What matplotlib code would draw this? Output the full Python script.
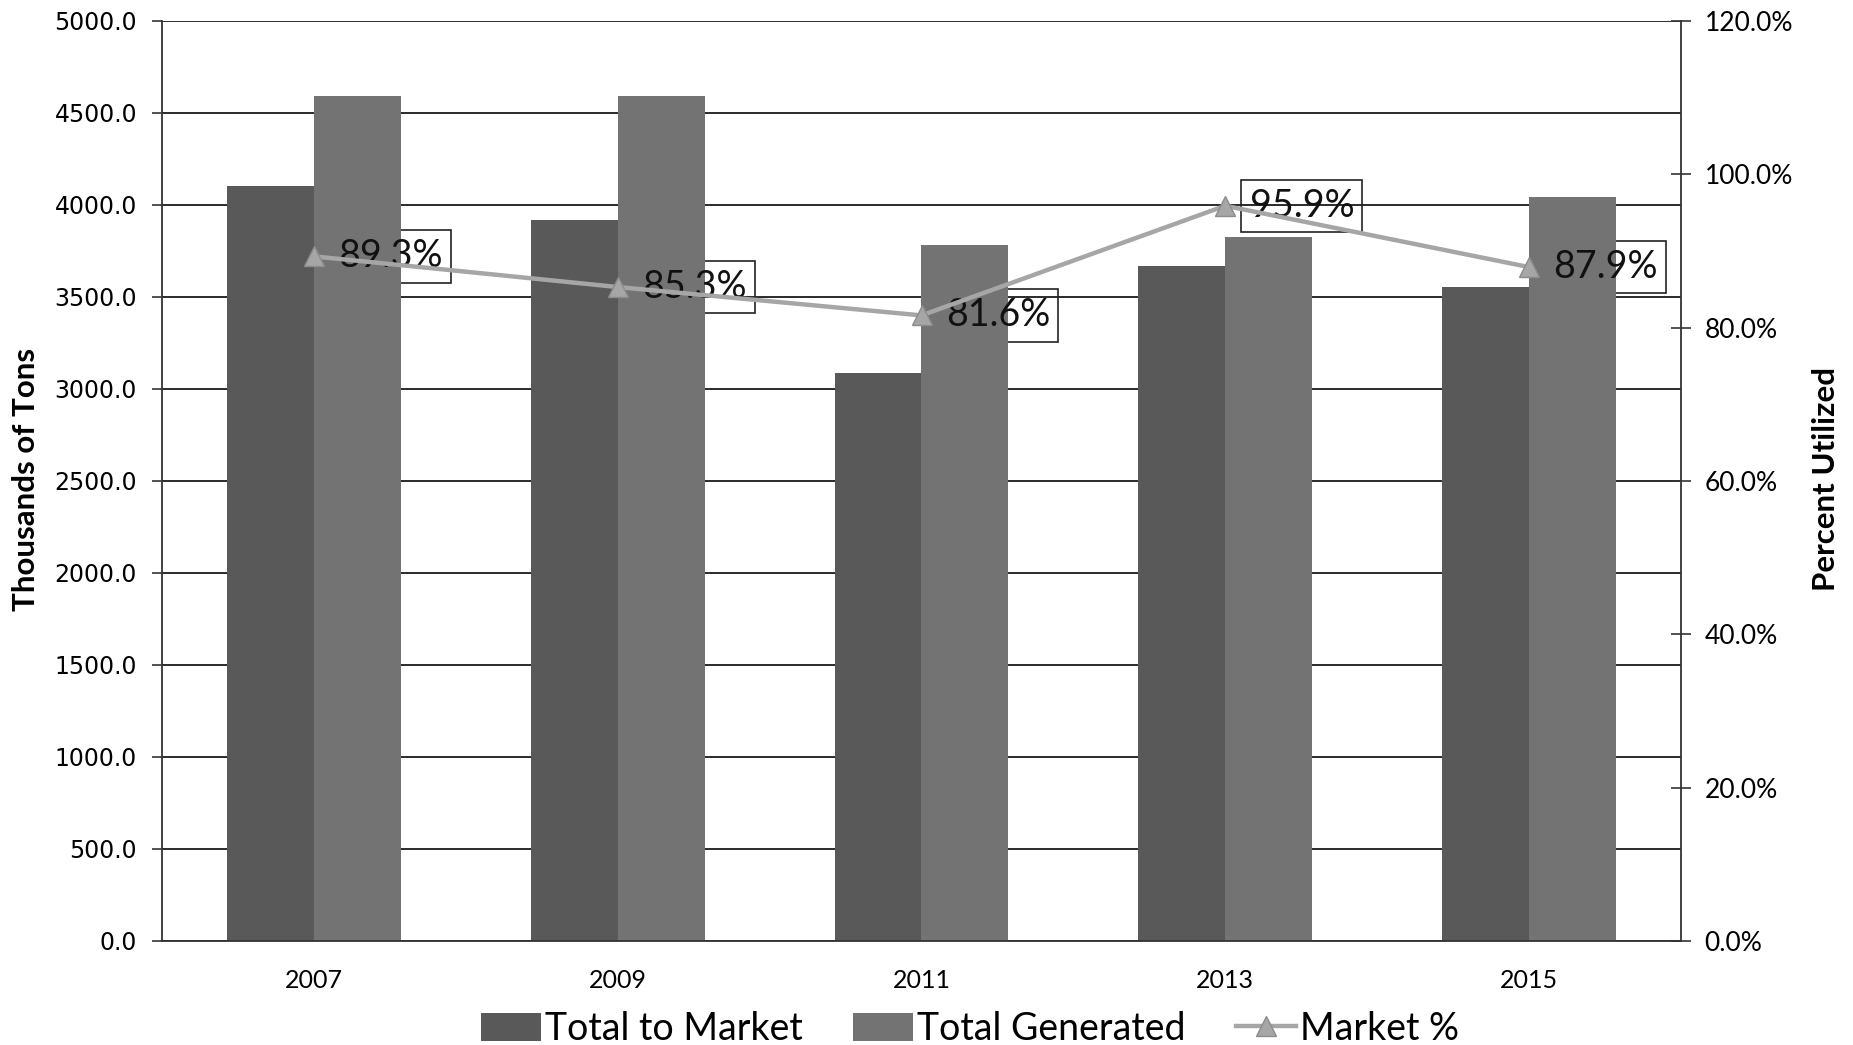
import matplotlib
matplotlib.use("Agg")
import matplotlib.pyplot as plt
import numpy as np
from matplotlib.ticker import FuncFormatter, MultipleLocator
from matplotlib.patches import Patch
from matplotlib.lines import Line2D

years = ["2007", "2009", "2011", "2013", "2015"]
total_to_market = [4105, 3920, 3085, 3670, 3555]
total_generated = [4595, 4595, 3785, 3825, 4045]
market_pct = [89.3, 85.3, 81.6, 95.9, 87.9]

c_market = "#595959"
c_gen = "#737373"
c_line = "#a6a6a6"

fig = plt.figure(figsize=(18.53, 10.45), dpi=100)
ax = fig.add_axes([162/1853, 1-941/1045, (1681-162)/1853, (941-21)/1045])
ax2 = ax.twinx()

x = np.arange(len(years))
w = 0.286
ax.bar(x - w/2, total_to_market, width=w, color=c_market, zorder=2)
ax.bar(x + w/2, total_generated, width=w, color=c_gen, zorder=2)

ax.set_xlim(-0.5, len(years) - 0.5)
ax.set_ylim(0, 5000)
ax.yaxis.set_major_locator(MultipleLocator(500))
ax.yaxis.set_major_formatter(FuncFormatter(lambda v, p: f"{v:.1f}"))
ax.set_axisbelow(True)
ax.grid(axis="y", color="#1a1a1a", lw=1.3, zorder=0.5)
ax.set_xticks(x)
ax.set_xticklabels(years, fontfamily="Lato", fontsize=18)
ax.tick_params(axis="x", length=0, pad=20)
ax.tick_params(axis="y", direction="out", length=7, width=1.2, color="#333333", pad=11)
for lab in ax.get_yticklabels():
    lab.set_fontfamily("DejaVu Sans")
    lab.set_fontsize(17)
for s in ["top", "right"]:
    ax.spines[s].set_visible(False)
for s in ["left", "bottom"]:
    ax.spines[s].set_color("#333333")
    ax.spines[s].set_linewidth(1.3)

ax2.set_ylim(0, 120)
ax2.yaxis.set_major_locator(MultipleLocator(20))
ax2.yaxis.set_major_formatter(FuncFormatter(lambda v, p: f"{v:.1f}%"))
ax2.tick_params(axis="y", direction="inout", length=14, width=1.2, color="#333333", pad=10)
for lab in ax2.get_yticklabels():
    lab.set_fontfamily("Lato")
    lab.set_fontsize(19)
for s in ["top", "left", "bottom"]:
    ax2.spines[s].set_visible(False)
ax2.spines["right"].set_color("#333333")
ax2.spines["right"].set_linewidth(1.3)

ax2.plot(x, market_pct, color=c_line, lw=3.2, marker="^", ms=14,
         markerfacecolor=c_line, markeredgecolor="#8c8c8c", zorder=3)

for xi, v in zip(x, market_pct):
    lbl = f"{v:.1f}%"
    # box outline drawn beneath the bars
    ax.text(xi + 0.08, v * 5000 / 120, lbl, transform=ax.transData,
            fontfamily="Lato", fontsize=27, color="none", va="center", ha="left",
            bbox=dict(boxstyle="square,pad=0.22", facecolor="none", edgecolor="#222222", lw=1.2),
            zorder=1)
    ax2.text(xi + 0.08, v, lbl, fontfamily="Lato", fontsize=27, color="#111111",
             va="center", ha="left", zorder=2)

fig.text(26/1853, 1-479/1045, "Thousands of Tons", rotation=90, ha="center", va="center",
         fontfamily="Lato", fontweight="bold", fontsize=22.5)
fig.text(1826/1853, 1-479/1045, "Percent Utilized", rotation=90, ha="center", va="center",
         fontfamily="Lato", fontweight="bold", fontsize=22.5)

handles = [Patch(facecolor=c_market, edgecolor="none"),
           Patch(facecolor=c_gen, edgecolor="none"),
           Line2D([0], [0], color=c_line, lw=3.2, marker="^", ms=14,
                  markerfacecolor=c_line, markeredgecolor="#8c8c8c")]
fig.legend(handles, ["Total to Market", "Total Generated", "Market %"],
           loc="center", bbox_to_anchor=(970/1853, 1-1029/1045), ncol=3,
           frameon=False, prop={"family": "Lato", "size": 27},
           handlelength=1.6, handleheight=0.8, handletextpad=0.1, columnspacing=1.35,
           borderpad=0, borderaxespad=0)

fig.savefig("out.png", dpi=100)
